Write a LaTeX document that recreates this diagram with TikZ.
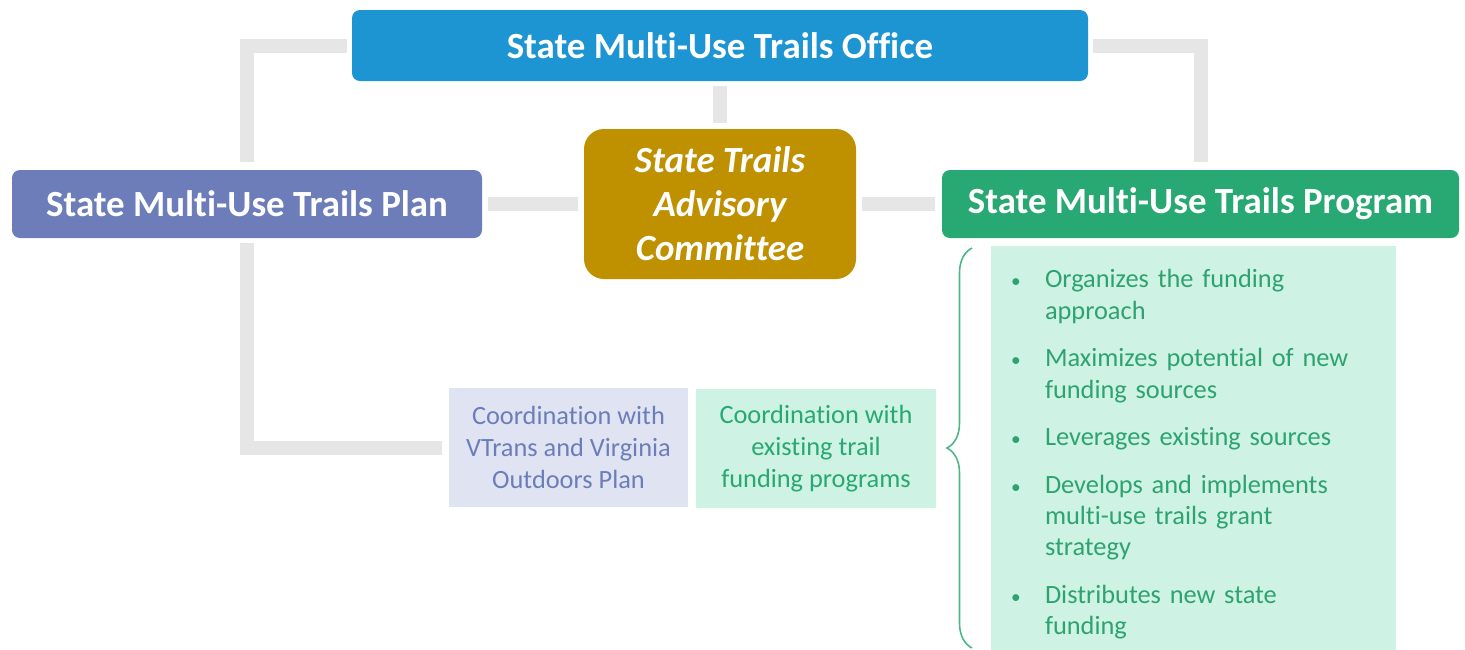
\documentclass[tikz,border=0pt]{standalone}
\usepackage{fontspec}
\setmainfont{Carlito}[Ligatures={NoCommon}]
\usetikzlibrary{decorations.pathreplacing,calc}
\definecolor{officeblue}{HTML}{1E95D3}
\definecolor{planblue}{HTML}{6C7DB9}
\definecolor{goldbox}{HTML}{BF9000}
\definecolor{progreen}{HTML}{28A872}
\definecolor{conngray}{HTML}{E6E6E6}
\definecolor{lavender}{HTML}{E0E4F2}
\definecolor{mint}{HTML}{CEF2E3}
\definecolor{textgreen}{HTML}{2EA36F}
\definecolor{bracegreen}{HTML}{4DB588}
\newcommand\mybul{\makebox[0.68cm][l]{\hspace{0.0cm}{\fontsize{11}{11}\selectfont\textbullet}}}
\newcommand\myind{\hspace*{0.68cm}}
\begin{document}
\begin{tikzpicture}[
 head/.style={rounded corners=0.16cm, text=white, font=\fontsize{21}{25}\selectfont\bfseries, inner sep=0pt, align=center},
 conn/.style={draw=conngray, line width=0.28cm},
 softbox/.style={inner sep=0pt, align=center, font=\fontsize{15}{18.2}\selectfont},
]
\useasboundingbox (0,0) rectangle (29.3,-12.98);

\node[head, fill=officeblue, minimum width=14.72cm, minimum height=1.42cm] (office) at (14.4,-0.91) {State Multi-Use Trails Office};
\node[head, fill=planblue, minimum width=9.4cm, minimum height=1.36cm] (plan) at (4.94,-4.08) {State Multi-Use Trails Plan};
\node[head, fill=progreen, minimum width=10.34cm, minimum height=1.36cm] (program) at (24.01,-4.08) {State Multi-Use Trails Program};
\node[head, fill=goldbox, rounded corners=0.4cm, minimum width=5.44cm, minimum height=3.0cm, font=\fontsize{21}{25}\selectfont\bfseries\itshape] (committee) at (14.4,-4.08) {State Trails\\Advisory\\Committee};

\node[softbox, fill=lavender, text=planblue, minimum width=4.78cm, minimum height=2.38cm] (coordL) at (11.37,-8.95) {Coordination with\\VTrans and Virginia\\Outdoors Plan};
\node[softbox, fill=mint, text=progreen, minimum width=4.8cm, minimum height=2.38cm] (coordR) at (16.32,-8.97) {Coordination with\\existing trail\\funding programs};

\node[fill=mint, text=textgreen, minimum width=8.1cm, minimum height=8.34cm, inner xsep=0.4cm, inner ysep=0pt, text width=7.3cm, align=left, font=\fontsize{15}{17.8}\selectfont] (list) at (23.87,-9.09) {%
\mybul Organizes the funding\\
\myind approach\\[9.3pt]
\mybul Maximizes potential of new\\
\myind funding sources\\[9.3pt]
\mybul Leverages existing sources\\[9.3pt]
\mybul Develops and implements\\
\myind multi-use trails grant\\
\myind strategy\\[9.3pt]
\mybul Distributes new state\\
\myind funding};

% connectors
\draw[conn] ([xshift=-0.1cm]office.west) -| ([yshift=0.16cm]plan.north);
\draw[conn] ([xshift=0.1cm]office.east) -| ([yshift=0.16cm]program.north);
\draw[conn] ([yshift=-0.1cm]office.south) -- ([yshift=0.12cm]committee.north);
\draw[conn] ([xshift=0.12cm]plan.east) -- ([xshift=-0.12cm]committee.west);
\draw[conn] ([xshift=0.12cm]committee.east) -- ([xshift=-0.14cm]program.west);
\draw[conn] ([yshift=-0.1cm]plan.south) |- ([xshift=-0.14cm]coordL.west);

% brace
\coordinate (braceB) at (19.44,-12.96);
\coordinate (braceT) at (19.44,-4.96);
\draw[bracegreen, line width=0.9pt, decorate, decoration={brace, amplitude=0.5cm, aspect=0.5}] (braceB) -- (braceT);
\end{tikzpicture}
\end{document}
